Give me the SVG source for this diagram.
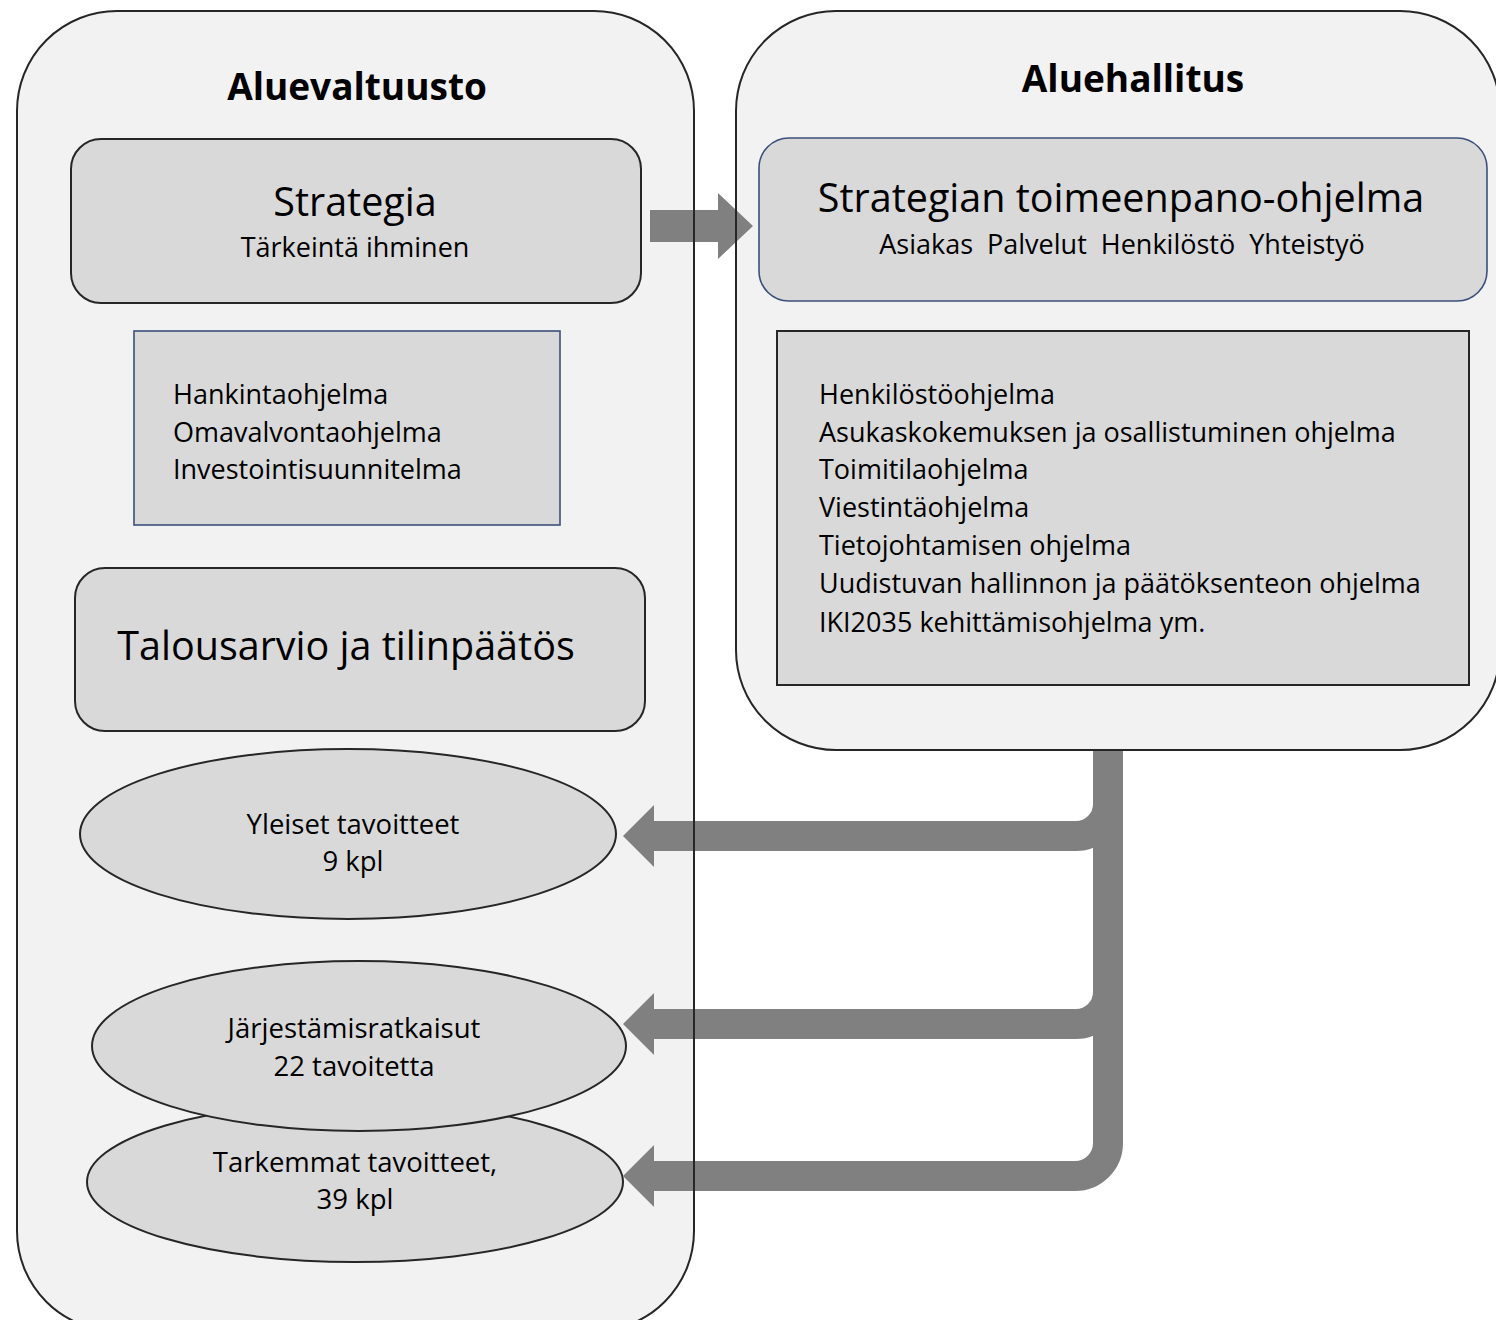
<svg xmlns="http://www.w3.org/2000/svg" xmlns:xlink="http://www.w3.org/1999/xlink" width="1496" height="1320" viewBox="0 0 1496 1320">
<style>
text{font-family:"Open Sans","Noto Sans","Liberation Sans",sans-serif;fill:#000}
.cont{fill:#f2f2f2;stroke:none}
.outline{fill:none;stroke:#262626;stroke-width:2}
.box{fill:#d9d9d9;stroke:#262626;stroke-width:2}
.boxb{fill:#d9d9d9;stroke:#3b4f7a;stroke-width:1.6}
.ell{fill:#d9d9d9;stroke:#262626;stroke-width:2}
.h{font-weight:bold;font-size:37px;text-anchor:middle}
.big{font-size:39.5px;text-anchor:middle}
.sub{font-size:27px;text-anchor:middle}
.li{font-size:27px}
.et{font-size:27.5px;text-anchor:middle}
.conn{fill:none;stroke:#808080;stroke-width:30}
.head{fill:#808080}
</style>
<defs>
<rect id="leftC" x="17" y="11" width="677" height="1320" rx="100"/>
<rect id="rightC" x="736" y="11" width="764" height="739" rx="100"/>
</defs>
<g id="aluevaltuusto">
<use xlink:href="#leftC" class="cont"/>
<text class="h" x="357" y="100">Aluevaltuusto</text>
</g>
<g id="aluehallitus">
<use xlink:href="#rightC" class="cont"/>
<text class="h" x="1133" y="92">Aluehallitus</text>
</g>
<g id="strategia">
<rect class="box" x="71" y="139" width="570" height="164" rx="30"/>
<text class="big" x="355" y="216">Strategia</text>
<text class="sub" x="355" y="257">Tärkeintä ihminen</text>
</g>
<g id="ohjelmat-vasen">
<rect class="boxb" x="134" y="331" width="426" height="194"/>
<text class="li" x="173" y="404">Hankintaohjelma</text>
<text class="li" x="173" y="442">Omavalvontaohjelma</text>
<text class="li" x="173" y="479">Investointisuunnitelma</text>
</g>
<g id="talousarvio">
<rect class="box" x="75" y="568" width="570" height="163" rx="30"/>
<text class="big" x="346" y="660">Talousarvio ja tilinpäätös</text>
</g>
<g id="yleiset">
<ellipse class="ell" cx="348" cy="834" rx="268" ry="85"/>
<text class="et" x="353" y="834">Yleiset tavoitteet</text>
<text class="et" x="353" y="871">9 kpl</text>
</g>
<g id="tarkemmat">
<ellipse class="ell" cx="355" cy="1182" rx="268" ry="80"/>
<text class="et" x="355" y="1172">Tarkemmat tavoitteet,</text>
<text class="et" x="355" y="1209">39 kpl</text>
</g>
<g id="jarjestamis">
<ellipse class="ell" cx="359" cy="1046" rx="267" ry="85"/>
<text class="et" x="354" y="1038">Järjestämisratkaisut</text>
<text class="et" x="354" y="1076">22 tavoitetta</text>
</g>
<g id="toimeenpano">
<rect class="boxb" x="759" y="138" width="728" height="163" rx="30"/>
<text class="big" x="1121" y="212">Strategian toimeenpano-ohjelma</text>
<text class="sub" x="1122" y="254" xml:space="preserve">Asiakas  Palvelut  Henkilöstö  Yhteistyö</text>
</g>
<g id="ohjelmat-oikea">
<rect class="box" x="777" y="331" width="692" height="354"/>
<text class="li" x="819" y="404">Henkilöstöohjelma</text>
<text class="li" x="819" y="442">Asukaskokemuksen ja osallistuminen ohjelma</text>
<text class="li" x="819" y="479">Toimitilaohjelma</text>
<text class="li" x="819" y="517">Viestintäohjelma</text>
<text class="li" x="819" y="555">Tietojohtamisen ohjelma</text>
<text class="li" x="819" y="593">Uudistuvan hallinnon ja päätöksenteon ohjelma</text>
<text class="li" x="819" y="632">IKI2035 kehittämisohjelma ym.</text>
</g>
<g id="connectors">
<polygon class="head" points="650,210 718,210 718,193 753,226 718,259 718,242 650,242"/>
<path class="conn" d="M1108,751 V804 A32,32 0 0 1 1076,836 H652"/>
<path class="conn" d="M1108,751 V992 A32,32 0 0 1 1076,1024 H652"/>
<path class="conn" d="M1108,751 V1143 A33,33 0 0 1 1075,1176 H652"/>
<polygon class="head" points="654,805 623,836 654,867"/>
<polygon class="head" points="654,993 623,1024 654,1055"/>
<polygon class="head" points="654,1145 623,1176 654,1207"/>
</g>
<g id="container-outlines">
<use xlink:href="#leftC" class="outline"/>
<use xlink:href="#rightC" class="outline"/>
</g>
</svg>
